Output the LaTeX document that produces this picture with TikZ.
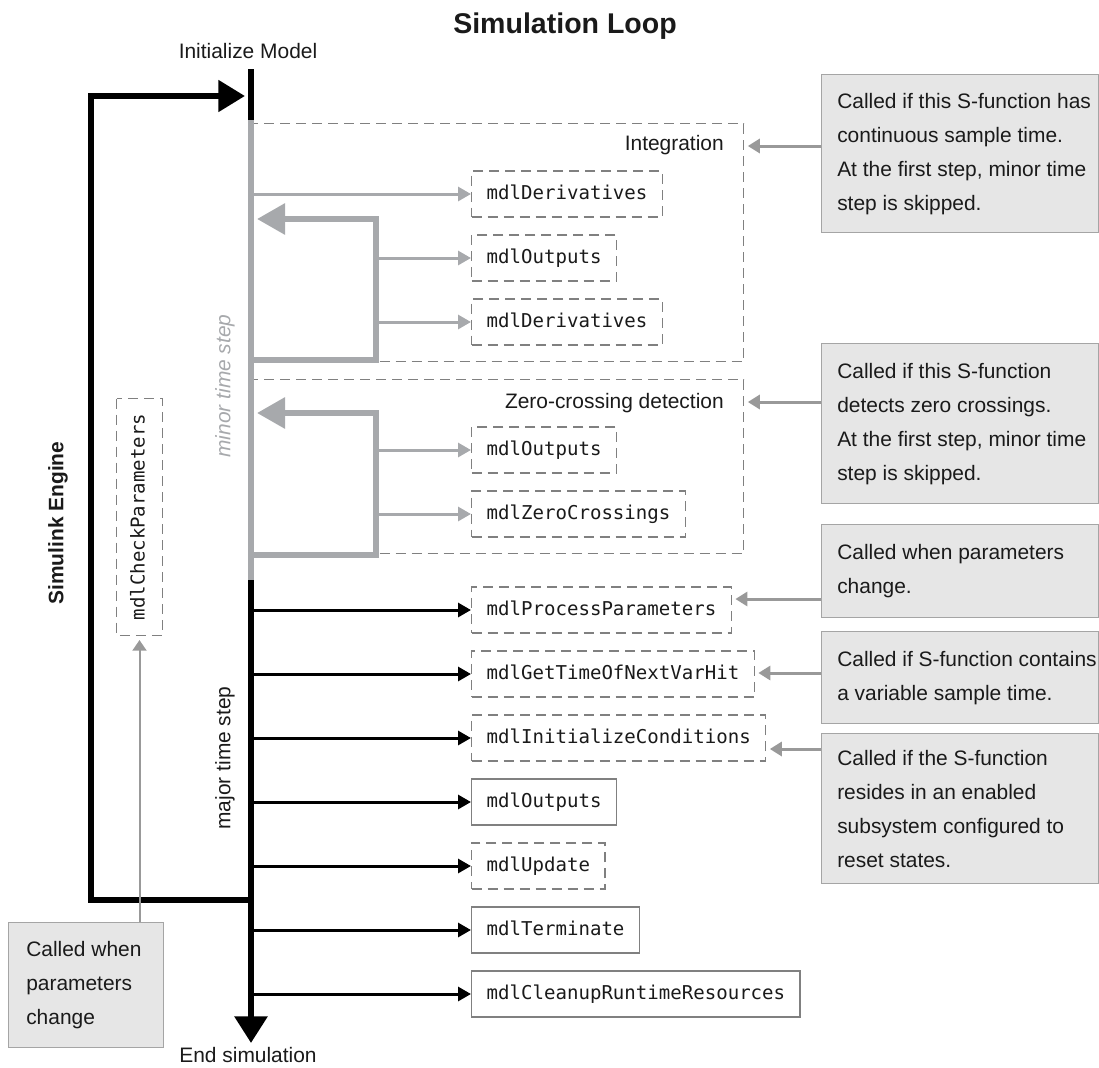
\documentclass[tikz,border=0pt]{standalone}
\usepackage{fontspec}
\setmainfont{Liberation Sans}
\setmonofont{DejaVu Sans Mono}
\usetikzlibrary{arrows.meta}
\definecolor{minorgray}{HTML}{A7A9AC}
\definecolor{boxgray}{HTML}{808080}
\definecolor{notefill}{HTML}{E6E6E6}
\definecolor{noteline}{HTML}{A5A5A5}
\definecolor{arrgray}{HTML}{999999}
\definecolor{txt}{HTML}{1A1A1A}
\begin{document}
\begin{tikzpicture}[x=0.75pt,y=-0.75pt,
  fn/.style={draw=boxgray, line width=1.1pt, font=\fontsize{14.3pt}{17pt}\ttfamily, text=txt,
    inner xsep=11.25pt, inner ysep=0pt, minimum height=34.5pt, text height=10.5pt, text depth=3pt, anchor=west},
  fnd/.style={fn, dash pattern=on 7.5pt off 4.5pt},
  cont/.style={draw=boxgray, line width=1.1pt, dash pattern=on 7.5pt off 4.5pt, inner sep=0pt, anchor=north west},
  note/.style={draw=noteline, fill=notefill, line width=1.1pt, inner sep=0pt, anchor=north west, minimum width=207.75pt},
  notetext/.style={font=\fontsize{15.7pt}{25.5pt}\selectfont, text=txt, align=left, inner sep=0pt, anchor=west},
  lbl/.style={font=\fontsize{15.7pt}{19pt}\selectfont, text=txt, inner sep=0pt},
  minorline/.style={draw=minorgray, line width=4.5pt},
  majorline/.style={draw=black, line width=4.5pt},
  minorarr/.style={draw=minorgray, line width=2.25pt, -{Triangle[length=9.75pt,width=10.5pt]}},
  majorarr/.style={draw=black, line width=2.25pt, -{Triangle[length=9.75pt,width=10.5pt]}},
  looparr/.style={draw=minorgray, line width=4.5pt, line join=miter, -{Triangle[length=21pt,width=22.5pt]}},
  notearr/.style={draw=arrgray, line width=2.25pt, -{Triangle[length=9pt,width=10.5pt]}, shorten >=2.5pt},
]
\useasboundingbox (0,0) rectangle (1099,1067);

% title
\node[font=\fontsize{21.4pt}{26pt}\selectfont\bfseries, text=txt, anchor=base, inner sep=0pt] (title) at (565,33) {Simulation Loop};

% containers
\node[cont, minimum width=369pt, minimum height=178.5pt] (integ) at (251,123) {};
\node[cont, minimum width=369pt, minimum height=130.5pt] (zc) at (251,379) {};
\node[lbl, anchor=base east] (intl) at (724,150) {Integration};
\node[lbl, anchor=base east] (zcl) at (724,408) {Zero-crossing detection};

% main line coordinates
\coordinate (mtop) at (251,69);
\coordinate (m1) at (251,120);
\coordinate (m2) at (251,580);
\coordinate (mend) at (251,1043);

% outer loop
\coordinate (lb) at (251,900);
\coordinate (lbl) at (91,900);
\coordinate (ltl) at (91,96);
\coordinate (ltip) at (245,96);
\draw[majorline, line join=miter, -{Triangle[length=20pt,width=23pt]}] (lb) -- (lbl) -- (ltl) -- (ltip);

% minor loops
\coordinate (l1a) at (251,360);
\coordinate (l1b) at (376,360);
\coordinate (l1c) at (376,219);
\coordinate (l1d) at (257,219);
\draw[looparr] (l1a) -- (l1b) -- (l1c) -- (l1d);
\coordinate (l2a) at (251,555);
\coordinate (l2b) at (376,555);
\coordinate (l2c) at (376,413);
\coordinate (l2d) at (257,413);
\draw[looparr] (l2a) -- (l2b) -- (l2c) -- (l2d);

% main line
\draw[majorline] (mtop) -- (m1);
\draw[minorline] (m1) -- (m2);
\draw[majorline, -{Triangle[length=20pt,width=24pt]}] (m2) -- (mend);

% function boxes
\node[fnd] (d1) at (471,194) {mdlDerivatives};
\node[fnd] (o1) at (471,258) {mdlOutputs};
\node[fnd] (d2) at (471,322) {mdlDerivatives};
\node[fnd] (o2) at (471,450) {mdlOutputs};
\node[fnd] (zcf) at (471,514) {mdlZeroCrossings};
\node[fnd] (pp) at (471,610) {mdlProcessParameters};
\node[fnd] (gt) at (471,674) {mdlGetTimeOfNextVarHit};
\node[fnd] (ic) at (471,738) {mdlInitializeConditions};
\node[fn] (o3) at (471,802) {mdlOutputs};
\node[fnd] (up) at (471,866) {mdlUpdate};
\node[fn] (te) at (471,930) {mdlTerminate};
\node[fn] (cl) at (471,994) {mdlCleanupRuntimeResources};

% minor arrows
\draw[minorarr] (m1 |- d1.west) -- (d1.west);
\draw[minorarr] (l1b |- o1.west) -- (o1.west);
\draw[minorarr] (l1b |- d2.west) -- (d2.west);
\draw[minorarr] (l2b |- o2.west) -- (o2.west);
\draw[minorarr] (l2b |- zcf.west) -- (zcf.west);

% major arrows
\foreach \n in {pp,gt,ic,o3,up,te,cl}{
  \draw[majorarr] (m2 |- \n.west) -- (\n.west);
}

% notes
\node[note, minimum height=118.5pt] (n1) at (821,74) {};
\node[notetext] (t1) at ([xshift=12pt]n1.west) {Called if this S-function has\\continuous sample time.\\At the first step, minor time\\step is skipped.};
\node[note, minimum height=120pt] (n2) at (821,343) {};
\node[notetext] (t2) at ([xshift=12pt]n2.west) {Called if this S-function\\detects zero crossings.\\At the first step, minor time\\step is skipped.};
\node[note, minimum height=69.75pt] (n3) at (821,524) {};
\node[notetext] (t3) at ([xshift=12pt]n3.west) {Called when parameters\\change.};
\node[note, minimum height=69pt] (n4) at (821,631) {};
\node[notetext] (t4) at ([xshift=12pt]n4.west) {Called if S-function contains\\a variable sample time.};
\node[note, minimum height=112.5pt] (n5) at (821,733) {};
\node[notetext] (t5) at ([xshift=12pt]n5.west) {Called if the S-function\\resides in an enabled\\subsystem configured to\\reset states.};
\node[note, minimum width=116.25pt, minimum height=93.75pt] (nl) at (8,922) {};
\node[notetext] (tl) at ([xshift=13.5pt]nl.west) {Called when\\parameters\\change};

\draw[notearr] (n1.west |- 0,146) -- (integ.east |- 0,146);
\draw[notearr] (n2.west |- 0,402) -- (zc.east |- 0,402);
\draw[notearr] (n3.west |- 0,599) -- (pp.east |- 0,599);
\draw[notearr] (n4.west |- 0,673) -- (gt.east |- 0,673);
\draw[notearr] (n5.west |- 0,749) -- (ic.east |- 0,749);

% check parameters
\node[fnd, rotate=90, anchor=center] (cp) at (139.5,517) {mdlCheckParameters};
\draw[draw=arrgray, line width=1.5pt, -{Triangle[length=8pt,width=10.5pt]}, shorten >=3pt] (cp.west |- nl.north) -- (cp.west);

% labels
\node[lbl, anchor=base] (init) at (248,58) {Initialize Model};
\node[lbl, anchor=base] (endsim) at (248,1062) {End simulation};
\node[lbl, font=\fontsize{15.7pt}{19pt}\selectfont\bfseries, rotate=90] (se) at (58,523) {Simulink Engine};
\node[lbl, font=\fontsize{15.7pt}{19pt}\selectfont\itshape, text=minorgray, rotate=90] (minor) at (225,386) {minor time step};
\node[lbl, rotate=90] (major) at (225,758) {major time step};
\end{tikzpicture}
\end{document}
